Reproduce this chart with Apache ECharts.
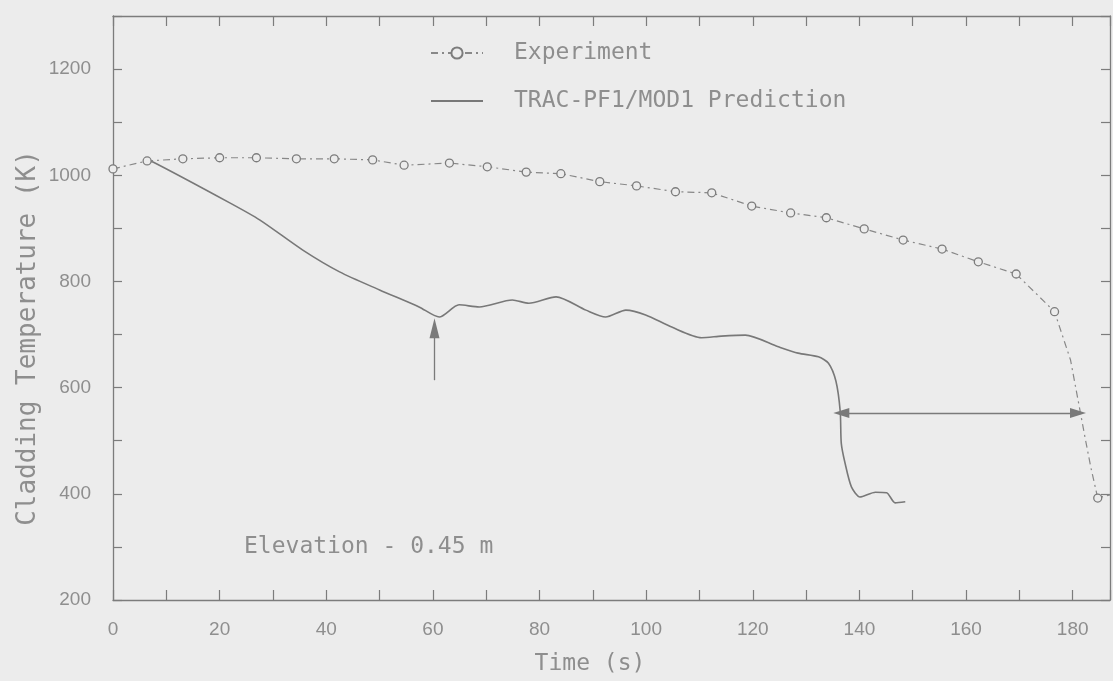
<!DOCTYPE html>
<html>
<head>
<meta charset="utf-8">
<script src="https://cdn.jsdelivr.net/npm/echarts@6/dist/echarts.min.js"></script>
<style>
  html, body { margin: 0; padding: 0; background: #ececec; }
  #chart { width: 1113px; height: 681px; }
</style>
</head>
<body>
<div id="chart"></div>
<script>
// Measured cladding temperature (circle markers)
const expTime = [0, 6.4, 13.1, 20.0, 26.9, 34.4, 41.5, 48.7, 54.6, 63.1, 70.2, 77.5, 84.0, 91.3,
                 98.2, 105.5, 112.3, 119.8, 127.1, 133.8, 140.9, 148.2, 155.5, 162.3, 169.4, 176.6, 184.7];
const expTemp = [1012, 1027, 1031, 1033, 1033, 1031, 1031, 1029, 1019, 1023, 1016, 1006, 1003, 988,
                 980, 969, 967, 942, 929, 920, 899, 878, 861, 837, 814, 743, 392];
// Points on the quench part of the measured curve that carry no marker
const expCurveTime = [179.6, 181.0, 182.3, 183.4, 187.0];
const expCurveTemp = [652, 577, 507, 450, 398];

// Code prediction
const tracTime = [6.4, 7.5, 21.9, 27.5, 35.6, 42.5, 50.0, 57.4, 61.2, 64.9, 68.7, 74.9, 78.0, 83.1,
                  88.7, 92.4, 96.2, 99.9, 104.8, 110.4, 114.1, 118.6, 124.8, 128.5, 132.3, 134.2,
                  135.6, 136.4, 136.6, 137.3, 138.5, 140.1, 143.0, 145.1, 146.7, 148.6];
const tracTemp = [1027, 1025, 948, 916, 859, 818, 784, 752, 733, 756, 752, 765, 759, 771,
                  746, 733, 746, 737, 714, 694, 697, 699, 677, 665, 658, 646,
                  612, 555, 495, 458, 413, 394, 403, 402, 383, 385];

// Annotation arrows: quench-time marker and quench-delay span
const markerArrow = { time: 60.3, from: 614, to: 712 };
const quenchSpan = { from: 136.6, to: 181.0, temp: 552 };

const xTicks = { min: 0, max: 187, step: 10, labelStep: 20 };
const yTicks = { min: 200, max: 1300, step: 100, labelStep: 200, labelMax: 1200 };

const seriesNames = ['Experiment', 'TRAC-PF1/MOD1 Prediction'];

const ink = '#7c7c7c';
const textInk = '#8e8e8e';
const bg = '#ececec';
const monoFont = '"DejaVu Sans Mono", "Liberation Mono", monospace';
const tickFont = '"Liberation Sans Narrow", "Liberation Sans", Arial, sans-serif';

// Merge marker points and curve-only points in time order
const expData = expTime.map((t, i) => ({ value: [t, expTemp[i]] }))
  .concat(expCurveTime.map((t, i) => ({ value: [t, expCurveTemp[i]], symbol: 'none' })))
  .sort((a, b) => a.value[0] - b.value[0]);
const tracData = tracTime.map((t, i) => [t, tracTemp[i]]);

const axisLine = { show: true, onZero: false, lineStyle: { color: ink, width: 1.3 } };
const tickLabel = { color: textInk, fontSize: 19, fontFamily: tickFont };

function xAxisDef(pos, showLabel) {
  return {
    type: 'value', position: pos, min: xTicks.min, max: xTicks.max, interval: xTicks.step,
    axisLine: axisLine,
    axisTick: { show: true, inside: true, length: 10, lineStyle: { color: ink, width: 1.2 } },
    axisLabel: Object.assign({
      show: showLabel, margin: 20,
      formatter: v => (v % xTicks.labelStep === 0 ? String(v) : '')
    }, tickLabel),
    splitLine: { show: false }
  };
}
function yAxisDef(pos, showLabel) {
  return {
    type: 'value', position: pos, min: yTicks.min, max: yTicks.max, interval: yTicks.step,
    axisLine: axisLine,
    axisTick: { show: true, inside: true, length: 9, lineStyle: { color: ink, width: 1.2 } },
    axisLabel: Object.assign({
      show: showLabel, margin: 22,
      formatter: v => (v % yTicks.labelStep === 0 && v <= yTicks.labelMax ? String(v) : '')
    }, tickLabel),
    splitLine: { show: false }
  };
}

const chart = echarts.init(document.getElementById('chart'), null, { renderer: 'canvas' });
chart.setOption({
  backgroundColor: bg,
  animation: false,
  grid: { left: 113, top: 16, width: 1001, height: 584 },
  xAxis: [xAxisDef('bottom', true), xAxisDef('top', false)],
  yAxis: [yAxisDef('left', true), yAxisDef('right', false)],
  legend: {
    data: [
      { name: seriesNames[0] },
      { name: seriesNames[1], itemStyle: { opacity: 0 } }
    ],
    orient: 'vertical',
    left: 425, top: 36,
    itemWidth: 52, itemHeight: 14, itemGap: 24,
    selectedMode: false,
    textStyle: { color: textInk, fontSize: 23, fontFamily: monoFont, lineHeight: 24, padding: [0, 0, 0, 26] }
  },
  graphic: [
    {
      type: 'text', left: 244, top: 536,
      style: { text: 'Elevation - 0.45 m', fill: textInk, font: '23px ' + monoFont }
    },
    {
      type: 'text', x: 590, y: 664,
      style: { text: 'Time (s)', fill: textInk, font: '23px ' + monoFont, textAlign: 'center', textVerticalAlign: 'middle' }
    },
    {
      type: 'text', x: 28, y: 338, rotation: Math.PI / 2,
      style: { text: 'Cladding Temperature (K)', fill: textInk, font: '26px ' + monoFont, textAlign: 'center', textVerticalAlign: 'middle' }
    }
  ],
  series: [
    {
      name: seriesNames[0],
      type: 'line',
      data: expData,
      symbol: 'circle',
      symbolSize: 8,
      showAllSymbol: true,
      itemStyle: { color: bg, borderColor: ink, borderWidth: 1.3 },
      lineStyle: { color: '#888', width: 1.2, type: [7, 4, 2, 4] },
      z: 3
    },
    {
      name: seriesNames[1],
      type: 'line',
      data: tracData,
      symbol: 'none',
      smooth: 0.25,
      lineStyle: { color: '#787878', width: 1.6 },
      itemStyle: { color: '#787878' },
      z: 2,
      markLine: {
        silent: true,
        label: { show: false },
        lineStyle: { color: '#7a7a7a', width: 1.3, type: 'solid' },
        symbol: ['none', 'triangle'],
        symbolSize: [10, 20],
        data: [
          [{ coord: [markerArrow.time, markerArrow.from], symbol: 'none' },
           { coord: [markerArrow.time, markerArrow.to], symbol: 'triangle', symbolSize: [10, 20] }],
          [{ coord: [quenchSpan.from, quenchSpan.temp], symbol: 'triangle', symbolSize: [10, 16] },
           { coord: [quenchSpan.to, quenchSpan.temp], symbol: 'triangle', symbolSize: [10, 16] }]
        ]
      }
    }
  ]
});
</script>
</body>
</html>
